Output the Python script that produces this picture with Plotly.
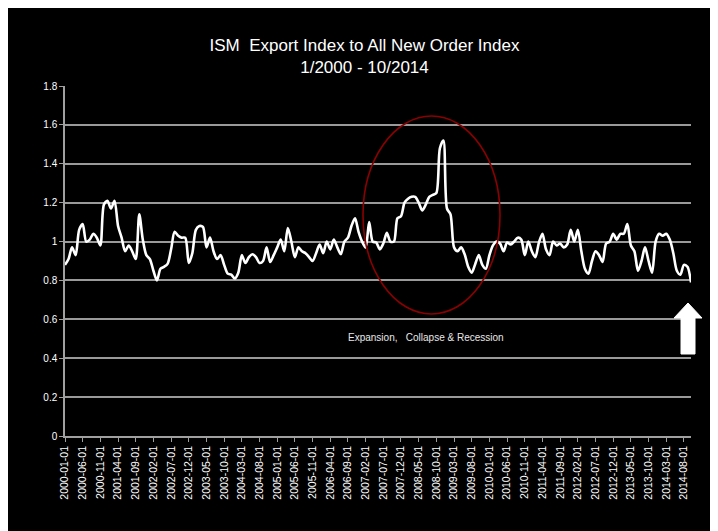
import plotly.graph_objects as go
import pandas as pd

months = pd.date_range("2000-01-01", "2014-10-01", freq="MS").strftime("%Y-%m-%d").tolist()

ratio = [
    0.88, 0.91, 0.97, 0.93, 1.06, 1.09, 1.00, 1.01, 1.04, 1.02,
    0.98, 1.19, 1.21, 1.17, 1.21, 1.08, 1.02, 0.95, 0.98, 0.95,
    0.91, 1.14, 1.01, 0.93, 0.91, 0.85, 0.80, 0.86, 0.87, 0.885,
    0.96, 1.05, 1.03, 1.02, 1.02, 0.89, 0.94, 1.06, 1.08, 1.075,
    0.97, 1.02, 0.95, 0.91, 0.93, 0.88, 0.835, 0.83, 0.81, 0.84,
    0.93, 0.89, 0.92, 0.935, 0.92, 0.89, 0.90, 0.97, 0.895, 0.93,
    0.97, 1.01, 0.95, 1.07, 1.00, 0.92, 0.97, 0.95, 0.94, 0.92,
    0.90, 0.94, 0.985, 0.94, 1.00, 0.96, 1.01, 0.97, 0.935, 1.00,
    1.02, 1.08, 1.12, 1.05, 1.00, 0.97, 1.10, 1.00, 0.995, 0.96,
    0.99, 1.045, 1.00, 1.00, 1.12, 1.13, 1.20, 1.22, 1.23, 1.23,
    1.20, 1.16, 1.19, 1.23, 1.24, 1.25, 1.48, 1.52, 1.17, 1.14,
    0.97, 0.95, 0.97, 0.935, 0.87, 0.84, 0.885, 0.93, 0.88, 0.86,
    0.93, 0.98, 1.00, 0.99, 0.95, 0.995, 0.985, 1.00, 1.02, 1.01,
    0.93, 1.00, 0.95, 0.92, 0.995, 1.04, 0.96, 0.93, 1.00, 0.98,
    0.99, 0.97, 0.985, 1.06, 1.00, 1.06, 0.95, 0.86, 0.835, 0.90,
    0.95, 0.93, 0.895, 0.99, 1.00, 1.04, 1.01, 1.04, 1.04, 1.09,
    0.98, 0.95, 0.85, 0.90, 0.97, 0.90, 0.84, 1.00, 1.04, 1.03,
    1.04, 1.01, 0.94, 0.85, 0.83, 0.88, 0.87, 0.79,
]

tick_labels = months[::5]
y_ticks = [0, 0.2, 0.4, 0.6, 0.8, 1, 1.2, 1.4, 1.6, 1.8]
y_tick_text = ["0", "0.2", "0.4", "0.6", "0.8", "1", "1.2", "1.4", "1.6", "1.8"]

# page has an 8px body margin; figure coords = page coords - 8
OFF = 8
W, H = 718, 531
L, T = 65 - OFF, 86 - OFF
R = W - (691 - OFF)
B = H - (436 - OFF)
pw, ph = W - L - R, H - T - B


def px(x):
    return (x - OFF - L) / pw


def py(y):
    return (H - B - (y - OFF)) / ph


fig = go.Figure()
fig.add_trace(go.Scatter(
    x=months, y=ratio, mode="lines",
    line=dict(color="white", width=2.6, shape="spline", smoothing=0.8),
    hoverinfo="x+y", showlegend=False,
))

shapes = [
    dict(type="circle", xref="paper", yref="paper", x0=px(363), x1=px(500), y0=py(314), y1=py(116),
         line=dict(color="#8B0000", width=1.6), fillcolor="rgba(0,0,0,0)"),
    dict(type="path", xref="paper", yref="paper",
         path=(f"M {px(688)} {py(303)} L {px(702)} {py(318)} L {px(695)} {py(318)} "
               f"L {px(695)} {py(354)} L {px(681)} {py(354)} L {px(681)} {py(318)} "
               f"L {px(674)} {py(318)} Z"),
         fillcolor="white", line=dict(color="white", width=1)),
]

fig.update_layout(
    width=W, height=H,
    margin=dict(l=L, r=R, t=T, b=B, pad=0),
    paper_bgcolor="black", plot_bgcolor="black",
    font=dict(family="Liberation Sans, Arial, sans-serif", color="white"),
    title=dict(text="ISM  Export Index to All New Order Index<br>1/2000 - 10/2014",
               x=(364.5 - OFF) / W, xanchor="center", xref="container",
               y=1 - (51 - OFF) / H, yanchor="top", yref="container",
               font=dict(size=17, color="white")),
    shapes=shapes,
    annotations=[dict(text="Expansion,   Collapse & Recession", xref="paper", yref="paper",
                      x=px(426), y=py(337), showarrow=False, xanchor="center", yanchor="middle",
                      font=dict(size=10, color="#e8e8e8"))],
    showlegend=False,
)

fig.update_xaxes(
    type="category", range=[0, len(months) - 1],
    tickmode="array", tickvals=tick_labels, ticktext=tick_labels,
    tickangle=-90, tickfont=dict(size=10.5, color="white"),
    ticks="outside", ticklen=4, tickcolor="#a0a0a0",
    showgrid=False, showline=True, linecolor="#a0a0a0", linewidth=1.5,
    zeroline=False,
)
fig.update_yaxes(
    range=[0, 1.8], tickmode="array", tickvals=y_ticks, ticktext=y_tick_text,
    tickfont=dict(size=10, color="white"),
    ticks="outside", ticklen=4, tickcolor="#a0a0a0",
    showgrid=True, gridcolor="#9a9a9a", gridwidth=1.5,
    showline=True, linecolor="#a0a0a0", linewidth=1.5, zeroline=False,
)

fig.write_html("out.html")
